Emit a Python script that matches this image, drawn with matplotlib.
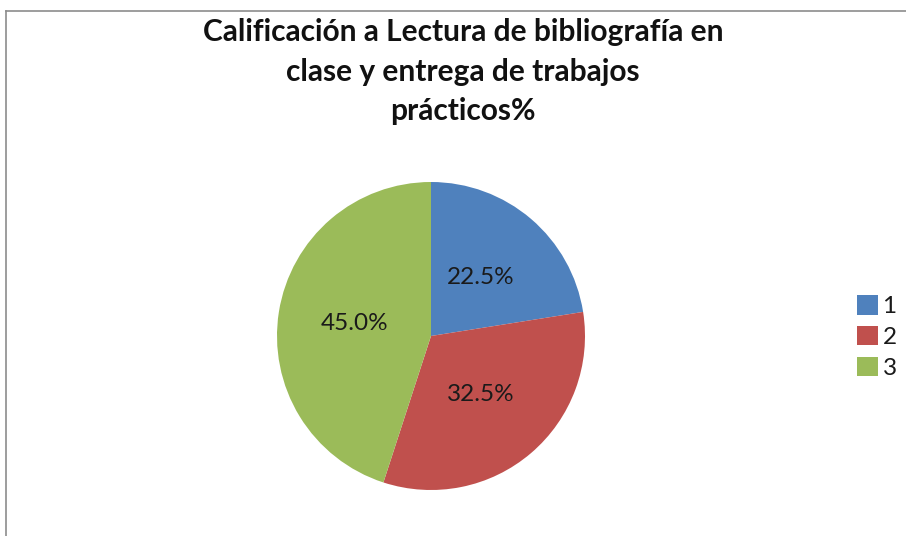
import matplotlib
matplotlib.use("Agg")
import matplotlib.pyplot as plt
from matplotlib.lines import Line2D

categorias = ["1", "2", "3"]
porcentajes = [22.5, 32.5, 45.0]
colores = ["#4F81BD", "#C0504D", "#9BBB59"]
titulo = "Calificación a Lectura de bibliografía en\nclase y entrega de trabajos\nprácticos%"

W, H = 906, 536
fig = plt.figure(figsize=(W / 100, H / 100), dpi=100)
plt.rcParams["font.family"] = ["Lato", "DejaVu Sans"]

# marco del grafico (solo se ven borde superior e izquierdo)
fig.add_artist(Line2D([6 / W, 1], [1 - 11 / H, 1 - 11 / H], color="#8c8c8c", lw=1.2))
fig.add_artist(Line2D([6 / W, 6 / W], [0, 1 - 11 / H], color="#8c8c8c", lw=1.2))

cx, cy, r = 431, 336, 154
ax = fig.add_axes([(cx - r) / W, 1 - (cy + r) / H, 2 * r / W, 2 * r / H])
cunas, textos, autotextos = ax.pie(
    porcentajes,
    colors=colores,
    startangle=90,
    counterclock=False,
    autopct="%1.1f%%",
    pctdistance=0.5,
    textprops={"fontsize": 17.5, "color": "#1a1a1a"},
)
ax.set_xlim(-1, 1)
ax.set_ylim(-1, 1)

fig.text(463 / W, 1 - 72 / H, titulo, ha="center", va="center",
         fontsize=21.5, fontweight="bold", linespacing=1.5, color="#111111")

ax.legend(cunas, categorias, loc="center left", bbox_to_anchor=(857 / W, 1 - 337 / H),
          bbox_transform=fig.transFigure, frameon=False, fontsize=17.5, borderpad=0,
          borderaxespad=0, handlelength=0.85, handleheight=0.85, handletextpad=0.2,
          labelspacing=0.35, labelcolor="#1a1a1a")

fig.savefig("out.png", dpi=100)
